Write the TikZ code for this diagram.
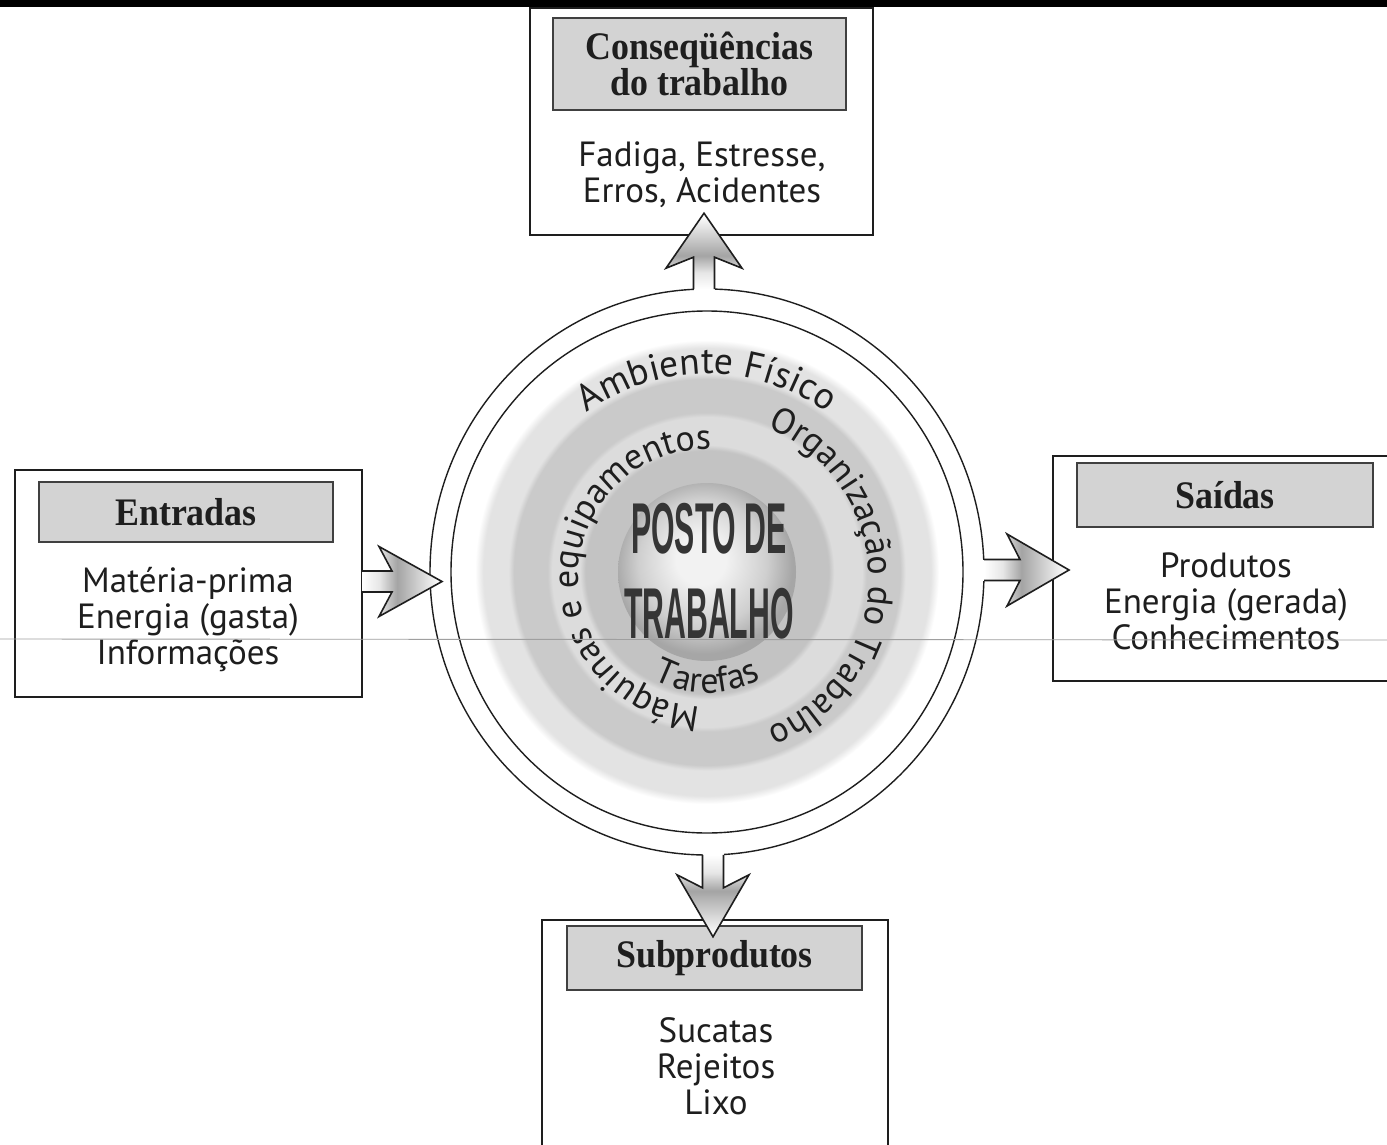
\documentclass[tikz,border=0pt]{standalone}
\usepackage{fontspec}
\setmainfont{PT Sans}
\newfontfamily\titlefont{Liberation Serif}[FakeStretch=0.92]
\newfontfamily\postofont{Liberation Sans}[FakeStretch=0.42]
\usetikzlibrary{decorations.text}
\definecolor{ink}{HTML}{1E1E1E}
\definecolor{titlefill}{HTML}{D3D3D3}
\definecolor{ringA}{HTML}{C3C3C3}
\definecolor{ringB}{HTML}{DCDCDC}
\definecolor{ringC}{HTML}{CACACA}
\definecolor{ringD}{HTML}{E3E3E3}
\definecolor{sphA}{HTML}{F2F2F2}
\definecolor{sphB}{HTML}{CFCFCF}
\definecolor{sphC}{HTML}{A6A6A6}
\definecolor{arA}{HTML}{E6E6E6}
\definecolor{arB}{HTML}{A4A4A4}
\pgfdeclareradialshading{rings}{\pgfpointorigin}{color(0bp)=(ringA); color(13.1bp)=(ringA); color(13.7bp)=(ringB); color(16.7bp)=(ringB); color(17.2bp)=(ringC); color(20.8bp)=(ringC); color(21.4bp)=(ringD); color(24.1bp)=(ringD); color(25bp)=(white); color(50bp)=(white)}
\pgfdeclareradialshading{sphere}{\pgfpoint{-2bp}{4bp}}{color(0bp)=(sphA); color(7bp)=(sphA); color(18bp)=(sphB); color(25bp)=(sphC); color(50bp)=(sphC)}
\pgfdeclarehorizontalshading{arrowsh}{100bp}{color(0bp)=(white); color(25bp)=(white); color(36bp)=(arA); color(47bp)=(arB); color(74bp)=(white); color(100bp)=(white)}
\newcommand{\ringfont}{\fontsize{36}{36}\selectfont\color{ink}}
\newcommand{\ringfontbig}{\fontsize{37.5}{37.5}\selectfont\color{ink}}
\tikzset{
  outerbox/.style={draw=ink, line width=1.8pt, fill=white, inner sep=0pt},
  titlebox/.style={draw=ink!85, line width=2.6pt, fill=titlefill, inner sep=0pt,
    font=\titlefont\bfseries\fontsize{39}{35}\selectfont, text=ink, align=center},
  bodytext/.style={font=\fontsize{35}{36}\selectfont, text=ink, align=center, inner sep=0pt},
  postotext/.style={font=\postofont\bfseries\fontsize{72}{72}\selectfont, text=ink!90, inner sep=0pt},
  ringline/.style={draw=ink, line width=1.4pt},
  arrowline/.style={draw=ink, line width=1.6pt, line join=miter, miter limit=10},
  ringtext/.style={decorate, decoration={text along path, text align=center, text={#1}}}
}
\begin{document}
\begin{tikzpicture}[x=1pt,y=-1pt]
\useasboundingbox (0,0) rectangle (1387,1145);
\fill[white] (0,0) rectangle (1387,1145);
\fill[black] (0,0) rectangle (1387,7);

% central rings
\coordinate (c) at (707,572);
\coordinate (tc) at (707,578);
\shade[shading=rings] (c) circle[radius=232];
\shade[shading=sphere] (c) circle[radius=89];
\draw[ringline] (c) ellipse[x radius=277, y radius=283];
\draw[ringline] (c) ellipse[x radius=256, y radius=261];

\node[postotext] (posto1) at (709,529) {POSTO DE};
\node[postotext] (posto2) at (709,614) {TRABALHO};

\begin{scope}[shift={(tc)}, y=1pt]
  \path[ringtext={|\ringfontbig|Ambiente Físico}] (150:204) arc[start angle=150, end angle=30, radius=204];
  \path[ringtext={|\ringfont|Organização do Trabalho}] (100:162) arc[start angle=100, end angle=-100, radius=162];
  \path[ringtext={|\ringfont|Máquinas e equipamentos}] (290:129) arc[start angle=290, end angle=65, radius=129];
  \path[ringtext={|\ringfont|Tarefas}] (-150:115) arc[start angle=-150, end angle=-30, radius=115];
\end{scope}

% boxes
\node[outerbox, minimum width=343pt, minimum height=227pt] (topbox) at (701.5,121.5) {};
\node[titlebox, minimum width=293pt, minimum height=92pt] (toptitle) at (699.5,64) {Conseqüências\\do trabalho};
\node[bodytext] (topbody) at (702,175) {Fadiga, Estresse,\\Erros, Acidentes};

\node[outerbox, minimum width=347pt, minimum height=227pt] (leftbox) at (188.5,583.5) {};
\node[titlebox, minimum width=294pt, minimum height=60pt] (lefttitle) at (186,512) {Entradas};
\node[bodytext] (leftbody) at (188,620) {Matéria-prima\\Energia (gasta)\\Informações};

\node[outerbox, minimum width=347pt, minimum height=225pt] (rightbox) at (1226.5,568.5) {};
\node[titlebox, minimum width=296pt, minimum height=64pt] (righttitle) at (1225,495) {Saídas};
\node[bodytext] (rightbody) at (1226,601) {Produtos\\Energia (gerada)\\Conhecimentos};

\node[outerbox, minimum width=346pt, minimum height=230pt] (botbox) at (715,1035) {};
\node[titlebox, minimum width=295pt, minimum height=64pt] (bottitle) at (714.5,958) {Subprodutos};
\node[bodytext] (botbody) at (716,1066.5) {Sucatas\\Rejeitos\\Lixo};

% arrows
\coordinate (ra) at (984,570);
\begin{scope}[shift={(ra)}]
  \fill[white] (-9,-10.5) rectangle (3,10.5);
  \shade[shading=arrowsh] (0,-10.5) -- (36,-10.5) -- (23,-36) -- (85,0) -- (23,36) -- (36,10.5) -- (0,10.5) -- cycle;
  \draw[arrowline] (0,-10.5) -- (36,-10.5) -- (23,-36) -- (85,0) -- (23,36) -- (36,10.5) -- (0,10.5);
\end{scope}

\coordinate (la) at (362,581.5);
\begin{scope}[shift={(la)}]
  \shade[shading=arrowsh] (0,-10.5) -- (30,-10.5) -- (17,-35) -- (80,0) -- (17,35) -- (30,10.5) -- (0,10.5) -- cycle;
  \draw[arrowline] (0,-10.5) -- (30,-10.5) -- (17,-35) -- (80,0) -- (17,35) -- (30,10.5) -- (0,10.5);
\end{scope}

\coordinate (ta) at (704,289.2);
\begin{scope}[shift={(ta)}]
  \fill[white] (-10.5,9) rectangle (10.5,-3);
  \shade[shading=arrowsh, shading angle=90] (-10.5,0) -- (-10.5,-32) -- (-38,-21) -- (0,-76) -- (38,-21) -- (10.5,-32) -- (10.5,0) -- cycle;
  \draw[arrowline] (-10.5,0) -- (-10.5,-32) -- (-38,-21) -- (0,-76) -- (38,-21) -- (10.5,-32) -- (10.5,0);
\end{scope}

\coordinate (ba) at (713,854.8);
\begin{scope}[shift={(ba)}]
  \fill[white] (-10.5,-9) rectangle (10.5,3);
  \shade[shading=arrowsh, shading angle=-90] (-10.5,0) -- (-10.5,33) -- (-36,20) -- (0,82) -- (36,20) -- (10.5,33) -- (10.5,0) -- cycle;
  \draw[arrowline] (-10.5,0) -- (-10.5,33) -- (-36,20) -- (0,82) -- (36,20) -- (10.5,33) -- (10.5,0);
\end{scope}

% scan line
\coordinate (sl) at (0,639);
\coordinate (sr) at (1387,640);
\draw[gray!75, line width=0.9pt] (sl) -- (sr);
\end{tikzpicture}
\end{document}
